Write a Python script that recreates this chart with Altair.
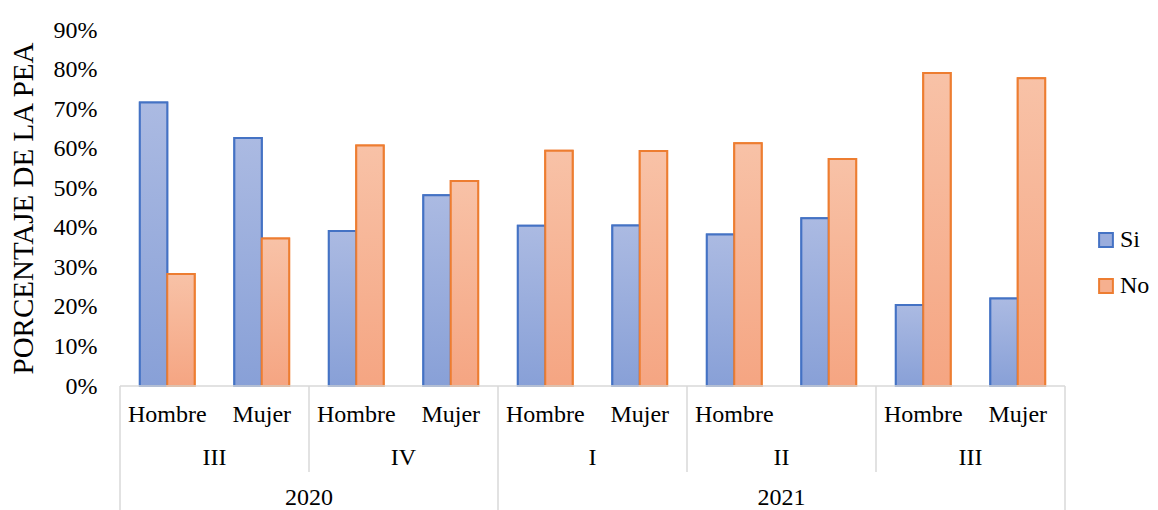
import altair as alt
import pandas as pd

# ---- data ----
years = ["2020", "2020", "2020", "2020", "2021", "2021", "2021", "2021", "2021", "2021"]
quarters = ["III", "III", "IV", "IV", "I", "I", "II", "II", "III", "III"]
sexes = ["Hombre", "Mujer", "Hombre", "Mujer", "Hombre", "Mujer", "Hombre", "Mujer", "Hombre", "Mujer"]
sex_labels = ["Hombre", "Mujer", "Hombre", "Mujer", "Hombre", "Mujer", "Hombre", "", "Hombre", "Mujer"]
si = [0.717, 0.627, 0.392, 0.482, 0.405, 0.406, 0.383, 0.424, 0.205, 0.221]
no = [0.283, 0.373, 0.608, 0.518, 0.595, 0.594, 0.614, 0.574, 0.791, 0.778]
series = ["Si", "No"]
y_ticks = [0, 0.1, 0.2, 0.3, 0.4, 0.5, 0.6, 0.7, 0.8, 0.9]

quarter_labels = ["III", "IV", "I", "II", "III"]
quarter_centers = [1, 3, 5, 7, 9]
year_labels = ["2020", "2021"]
year_centers = [2, 7]
short_dividers = [2, 6, 8]
long_dividers = [0, 4, 10]

ids = [f"{y}-{q}-{s}" for y, q, s in zip(years, quarters, sexes)]
rows = []
for i, cid in enumerate(ids):
    rows.append({"cat": cid, "series": "Si", "value": si[i]})
    rows.append({"cat": cid, "series": "No", "value": no[i]})
df = pd.DataFrame(rows)

W, H = 945, 356
FONT = "Liberation Serif, Times New Roman, serif"

xband = alt.X("cat:N", sort=ids, axis=None,
              scale=alt.Scale(domain=ids, paddingInner=0.42, paddingOuter=0.21))
xoff = alt.XOffset("series:N", sort=series, scale=alt.Scale(domain=series))
yaxis = alt.Axis(values=y_ticks, labelOverlap=False, tickCount=10,
                 format=".0%", title="PORCENTAJE DE LA PEA",
                 domain=False, ticks=False, grid=False,
                 labelPadding=23, labelFontSize=24, labelFont=FONT,
                 labelColor="#000000", titleFontSize=29, titleFont=FONT,
                 titleFontWeight="normal", titleColor="#000000",
                 titlePadding=15)
yenc = alt.Y("value:Q", scale=alt.Scale(domain=[0, 0.9], nice=False), axis=yaxis)

leg = alt.Legend(title=None, orient="none", legendX=974, legendY=198,
                 symbolType="square", symbolSize=190,
                 symbolStrokeWidth=2, labelFontSize=24,
                 labelFont=FONT, labelColor="#000000",
                 rowPadding=22, labelOffset=2)

base = alt.Chart(df)

legend_bars = base.mark_bar(strokeWidth=2).encode(
    x=xband, xOffset=xoff, y=yenc,
    fill=alt.Fill("series:N", sort=series,
                  scale=alt.Scale(domain=series, range=["#9aaddd", "#f6b08f"]),
                  legend=leg),
    stroke=alt.Stroke("series:N", sort=series,
                      scale=alt.Scale(domain=series, range=["#4472c4", "#ed7d31"]),
                      legend=leg),
)

grad_si = alt.Gradient(gradient="linear", x1=0, x2=0, y1=0, y2=1,
                       stops=[alt.GradientStop(color="#abbae2", offset=0),
                              alt.GradientStop(color="#88a0d7", offset=1)])
grad_no = alt.Gradient(gradient="linear", x1=0, x2=0, y1=0, y2=1,
                       stops=[alt.GradientStop(color="#f8c2a7", offset=0),
                              alt.GradientStop(color="#f5a582", offset=1)])

si_bars = base.transform_filter(alt.datum.series == "Si").mark_bar(
    fill=grad_si, stroke="#4472c4", strokeWidth=2).encode(x=xband, xOffset=xoff, y=yenc)
no_bars = base.transform_filter(alt.datum.series == "No").mark_bar(
    fill=grad_no, stroke="#ed7d31", strokeWidth=2).encode(x=xband, xOffset=xoff, y=yenc)

bars = alt.layer(legend_bars, si_bars, no_bars)

# ---- multi-level category axis ----
xlin = alt.Scale(domain=[0, 10], nice=False, zero=False)
GRID = "#d9d9d9"

baseline = alt.Chart(pd.DataFrame({"a": [0], "b": [10]})).mark_rule(
    color=GRID, strokeWidth=1.5).encode(
    x=alt.X("a:Q", scale=xlin, axis=None), x2="b:Q", y=alt.value(H))

short_rules = alt.Chart(pd.DataFrame({"p": short_dividers})).mark_rule(
    color=GRID, strokeWidth=1.5).encode(
    x=alt.X("p:Q", scale=xlin, axis=None), y=alt.value(H), y2=alt.value(H + 86))

long_rules = alt.Chart(pd.DataFrame({"p": long_dividers})).mark_rule(
    color=GRID, strokeWidth=1.5).encode(
    x=alt.X("p:Q", scale=xlin, axis=None), y=alt.value(H), y2=alt.value(H + 130))

lvl1 = alt.Chart(pd.DataFrame({"c": [i + 0.5 for i in range(10)], "t": sex_labels})).mark_text(
    font=FONT, fontSize=24, color="#000000", baseline="middle").encode(
    x=alt.X("c:Q", scale=xlin, axis=None), y=alt.value(H + 29), text="t:N")

lvl2 = alt.Chart(pd.DataFrame({"c": quarter_centers, "t": quarter_labels})).mark_text(
    font=FONT, fontSize=24, color="#000000", baseline="middle").encode(
    x=alt.X("c:Q", scale=xlin, axis=None), y=alt.value(H + 72), text="t:N")

lvl3 = alt.Chart(pd.DataFrame({"c": year_centers, "t": year_labels})).mark_text(
    font=FONT, fontSize=24, color="#000000", baseline="middle").encode(
    x=alt.X("c:Q", scale=xlin, axis=None), y=alt.value(H + 112), text="t:N")

frame = alt.layer(baseline, short_rules, long_rules, lvl1, lvl2, lvl3)

chart = alt.layer(bars, frame).resolve_scale(x="independent").properties(
    width=W, height=H,
    autosize=alt.AutoSizeParams(type="none"),
    padding={"left": 112, "top": 22, "right": 85, "bottom": 124},
).configure(font=FONT).configure_view(stroke=None)

chart.save("out.html", embed_options={"renderer": "svg", "actions": False})
